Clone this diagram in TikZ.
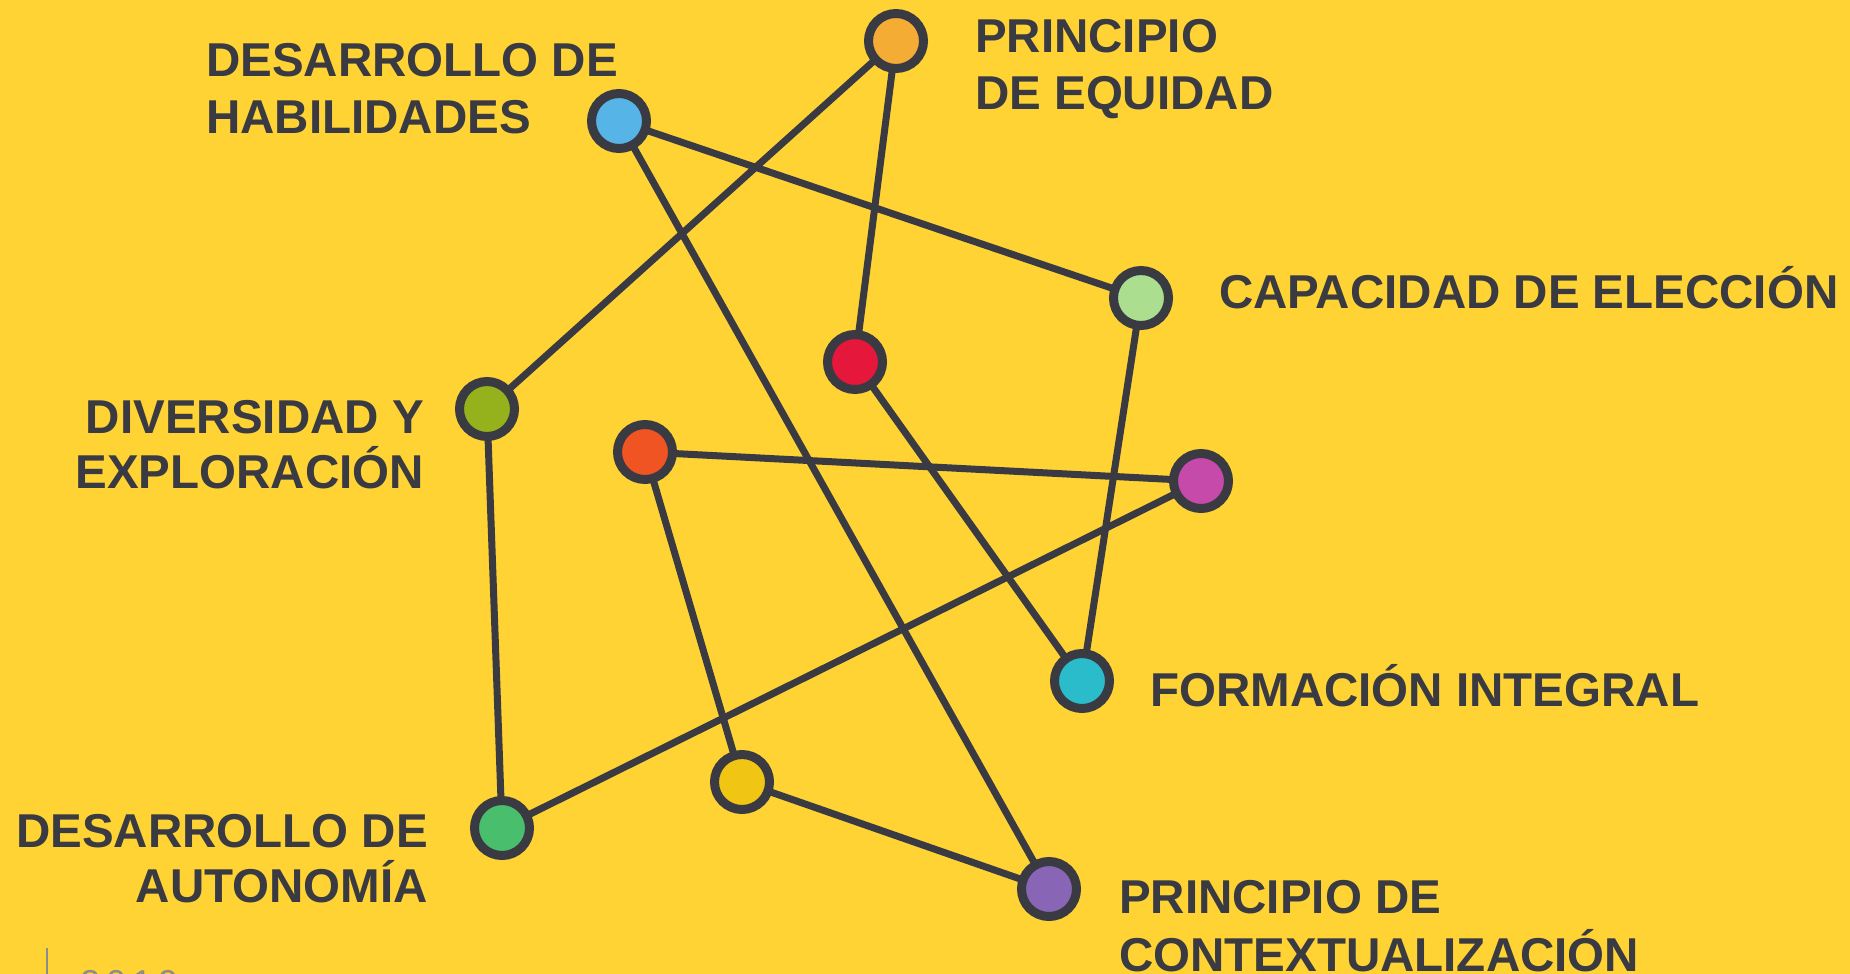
\documentclass[tikz,border=0pt]{standalone}
\usepackage{fontspec}
\setmainfont{Liberation Sans}
\definecolor{bg}{HTML}{FFD333}
\definecolor{ink}{HTML}{393A42}
\definecolor{cOrange}{HTML}{F5AC35}
\definecolor{cBlue}{HTML}{56B4E6}
\definecolor{cLight}{HTML}{ABDE8F}
\definecolor{cRed}{HTML}{E5173A}
\definecolor{cOlive}{HTML}{95B11B}
\definecolor{cOrRed}{HTML}{F05423}
\definecolor{cMagenta}{HTML}{C54AAA}
\definecolor{cTeal}{HTML}{2BBCCB}
\definecolor{cYellow}{HTML}{F0C514}
\definecolor{cGreen}{HTML}{49BE6C}
\definecolor{cPurple}{HTML}{8965B5}
\definecolor{yeargray}{HTML}{8C8C8C}
\pgfdeclarelayer{backlayer}
\pgfdeclarelayer{edgelayer}
\pgfsetlayers{backlayer,edgelayer,main}
\tikzset{
  lbl/.style={font=\fontsize{47.5}{56}\selectfont\bfseries, text=ink, inner sep=0pt},
  dot/.style={circle, draw=ink, line width=9pt, minimum size=55pt, inner sep=0pt},
  link/.style={draw=ink, line width=7pt},
}
\begin{document}
\begin{tikzpicture}[x=1pt,y=-1pt]
\useasboundingbox (0,0) rectangle (1850,974);
\begin{pgfonlayer}{backlayer}
\fill[bg] (0,0) rectangle (1850,974);
\end{pgfonlayer}

% nodes
\node[dot, fill=cOrange]  (equ) at (896,41)  {};
\node[dot, fill=cBlue]    (hab) at (619,121) {};
\node[dot, fill=cLight]   (cap) at (1141,298) {};
\node[dot, fill=cRed]     (red) at (855,362) {};
\node[dot, fill=cOlive]   (div) at (487,409) {};
\node[dot, fill=cOrRed]   (orr) at (645,452) {};
\node[dot, fill=cMagenta] (mag) at (1201,481) {};
\node[dot, fill=cTeal]    (for) at (1082,681) {};
\node[dot, fill=cYellow]  (yel) at (742,782) {};
\node[dot, fill=cGreen]   (aut) at (502,828) {};
\node[dot, fill=cPurple]  (ctx) at (1049,889) {};

% connectors (behind nodes)
\begin{pgfonlayer}{edgelayer}
\path[link] (equ.center) -- (div.center);
\path[link] (equ.center) -- (red.center);
\path[link] (hab.center) -- (cap.center);
\path[link] (hab.center) -- (ctx.center);
\path[link] (cap.center) -- (for.center);
\path[link] (red.center) -- (for.center);
\path[link] (div.center) -- (aut.center);
\path[link] (orr.center) -- (mag.center);
\path[link] (orr.center) -- (yel.center);
\path[link] (mag.center) -- (aut.center);
\path[link] (yel.center) -- (ctx.center);
\end{pgfonlayer}

% labels
\node[lbl, anchor=base west] (hab1) at (206,77)  {DESARROLLO DE};
\node[lbl, anchor=base west] (hab2) at (206,133) {HABILIDADES};
\node[lbl, anchor=base west] (equ1) at (975,53)  {PRINCIPIO};
\node[lbl, anchor=base west] (equ2) at (975,110) {DE EQUIDAD};
\node[lbl, anchor=base west] (cap1) at (1219,308) {CAPACIDAD DE ELECCIÓN};
\node[lbl, anchor=base east] (div1) at (424,433) {DIVERSIDAD Y};
\node[lbl, anchor=base east] (div2) at (424,488) {EXPLORACIÓN};
\node[lbl, anchor=base east] (aut1) at (428,847) {DESARROLLO DE};
\node[lbl, anchor=base east] (aut2) at (428,902) {AUTONOMÍA};
\node[lbl, anchor=base west] (for1) at (1150,706) {FORMACIÓN INTEGRAL};
\node[lbl, anchor=base west] (ctx1) at (1119,913) {PRINCIPIO DE};
\node[lbl, anchor=base west] (ctx2) at (1119,971) {CONTEXTUALIZACIÓN};

% footer fragment
\coordinate (ft) at (47,948);
\coordinate (fb) at (47,974);
\draw[yeargray, line width=1.5pt] (ft) -- (fb);
\begin{scope}
\clip (0,0) rectangle (1850,974);
\node[anchor=north west, inner sep=0pt, text=yeargray, font=\fontsize{36}{40}\selectfont] (year) at (80,970) {2\,0\,1\,9};
\end{scope}
\end{tikzpicture}
\end{document}
